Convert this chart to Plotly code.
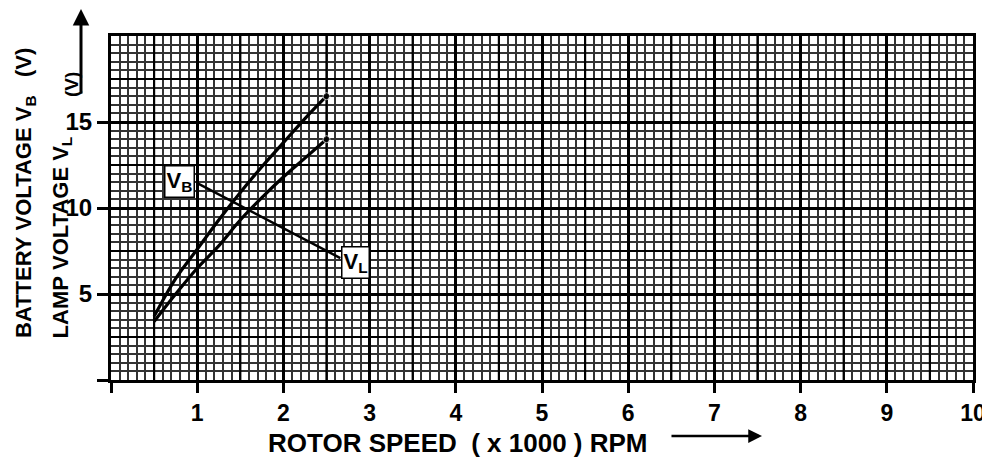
import plotly.graph_objects as go

# ---- data ----
rpm_k = [0.5, 0.75, 1.0, 1.25, 1.5, 1.75, 2.0, 2.25, 2.5]
battery_v = [3.7, 5.9, 7.6, 9.3, 10.9, 12.4, 13.8, 15.2, 16.5]
lamp_v = [3.4, 5.0, 6.5, 7.8, 9.3, 10.6, 11.8, 12.9, 14.0]

x_tick_vals = list(range(0, 11))
x_tick_text = [""] + [str(v) for v in range(1, 11)]
y_tick_vals = [0, 5, 10, 15]
y_tick_text = ["", "5", "10", "15"]
half_x = [i + 0.5 for i in range(10)]
half_y = [2.5, 7.5, 12.5, 17.5]

FONT = "Liberation Sans, Arial, Helvetica, sans-serif"
NB = "\u00a0"

fig = go.Figure()

end_sizes = [0] * (len(rpm_k) - 1) + [7]
fig.add_trace(go.Scatter(x=rpm_k, y=battery_v, mode="lines+markers", name="VB",
                         line=dict(color="black", width=3.2, shape="spline"),
                         marker=dict(size=end_sizes, color="black")))
fig.add_trace(go.Scatter(x=rpm_k, y=lamp_v, mode="lines+markers", name="VL",
                         line=dict(color="black", width=3.2, shape="spline"),
                         marker=dict(size=end_sizes, color="black")))

shapes = []
for hx in half_x:
    shapes.append(dict(type="line", xref="x", yref="y", x0=hx, x1=hx, y0=0, y1=20,
                       line=dict(color="black", width=2.2), layer="between"))
for hy in half_y:
    shapes.append(dict(type="line", xref="x", yref="y", x0=0, x1=10, y0=hy, y1=hy,
                       line=dict(color="black", width=2.2), layer="between"))
# leader line joining the two labels
shapes.append(dict(type="line", xref="x", yref="y", x0=1.0, y0=11.45, x1=2.66, y1=7.09,
                   line=dict(color="black", width=2.5), layer="above"))

bold = "bold"
annotations = [
    dict(x=0.80, y=11.57, xref="x", yref="y", text="V<sub>B</sub>", showarrow=False,
         font=dict(family=FONT, size=22, color="black", weight=bold), bgcolor="white",
         bordercolor="black", borderwidth=1.5, borderpad=1),
    dict(x=2.84, y=6.86, xref="x", yref="y", text="V<sub>L</sub>", showarrow=False,
         font=dict(family=FONT, size=22, color="black", weight=bold), bgcolor="white",
         bordercolor="black", borderwidth=1.5, borderpad=1),
    # y titles
    dict(x=-0.0998, y=0.5436, xref="paper", yref="paper",
         text="BATTERY" + NB + "VOLTAGE" + NB + "V<sub>B</sub>" + NB * 3 + "(V)", textangle=-90,
         showarrow=False, xanchor="center", yanchor="middle",
         font=dict(family=FONT, size=22, color="black", weight=bold)),
    dict(x=-0.0574, y=0.413, xref="paper", yref="paper",
         text="LAMP" + NB + "VOLTAGE" + NB + "V<sub>L</sub>", textangle=-90,
         showarrow=False, xanchor="center", yanchor="middle",
         font=dict(family=FONT, size=22, color="black", weight=bold)),
    dict(x=-0.0452, y=0.8576, xref="paper", yref="paper",
         text="(V)", textangle=-90,
         showarrow=False, xanchor="center", yanchor="middle",
         font=dict(family=FONT, size=19, color="black", weight=bold)),
    # vertical arrow
    dict(x=-0.0348, y=1.0814, xref="paper", yref="paper", text="", showarrow=True,
         ax=0, ay=87, arrowhead=2, arrowsize=1.1, arrowwidth=3, arrowcolor="black"),
    # x title
    dict(x=0.4026, y=-0.183, xref="paper", yref="paper",
         text="ROTOR" + NB + "SPEED" + NB * 2 + "(" + NB + "x" + NB + "1000" + NB + ")" + NB + "RPM",
         showarrow=False, xanchor="center", yanchor="middle",
         font=dict(family=FONT, size=26, color="black", weight=bold)),
    # horizontal arrow
    dict(x=0.7552, y=-0.1628, xref="paper", yref="paper", text="", showarrow=True,
         ax=-92, ay=0, arrowhead=2, arrowsize=1.1, arrowwidth=2.5, arrowcolor="black"),
]

# page body has an 8px default margin: size the figure so it ends at the window edge
fig.update_layout(
    width=982, height=454,
    margin=dict(l=103, r=17, t=28, b=82, autoexpand=False),
    paper_bgcolor="white", plot_bgcolor="white",
    showlegend=False,
    shapes=shapes, annotations=annotations,
    xaxis=dict(range=[0, 10], tickmode="array", tickvals=x_tick_vals, ticktext=x_tick_text,
               ticks="outside", ticklen=10, tickwidth=3, tickcolor="black",
               showgrid=True, gridcolor="black", gridwidth=3,
               showline=True, linecolor="black", linewidth=3, mirror=True,
               zeroline=False, fixedrange=True, automargin=False,
               tickfont=dict(family=FONT, size=23, color="black", weight=bold),
               minor=dict(tickmode="linear", tick0=0, dtick=0.1, showgrid=True,
                          gridcolor="#333333", gridwidth=1.6, ticks="")),
    yaxis=dict(range=[0, 20], tickmode="array", tickvals=y_tick_vals, ticktext=y_tick_text,
               ticks="outside", ticklen=11, tickwidth=3, tickcolor="black",
               showgrid=True, gridcolor="black", gridwidth=3,
               showline=True, linecolor="black", linewidth=3, mirror=True,
               zeroline=False, fixedrange=True, automargin=False,
               tickfont=dict(family=FONT, size=24, color="black", weight=bold),
               minor=dict(tickmode="linear", tick0=0, dtick=0.5, showgrid=True,
                          gridcolor="#333333", gridwidth=1.6, ticks="")),
)

fig.write_html("out.html")
